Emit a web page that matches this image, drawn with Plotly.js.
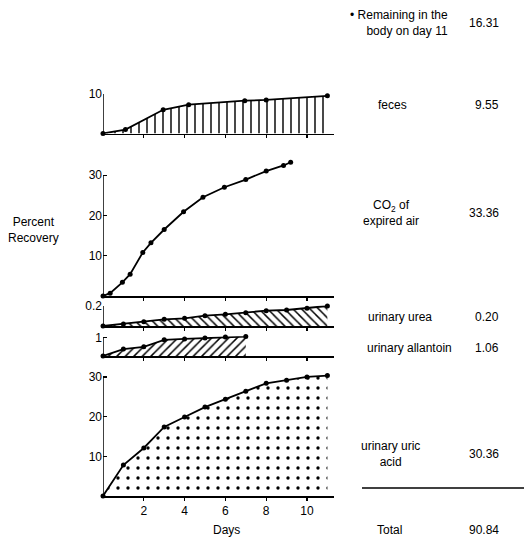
<!DOCTYPE html>
<html>
<head>
<meta charset="utf-8">
<script src="https://cdn.plot.ly/plotly-3.0.1.min.js"></script>
<style>html,body{margin:0;padding:0;background:#fff}#chart{width:524px;height:540px}</style>
</head>
<body>
<div id="chart"></div>
<script>
// ---- data ----
const fecesDays = [0, 1.1, 2.95, 4.2, 6.95, 8, 11];
const fecesVals = [0, 1.0, 6.0, 7.3, 8.3, 8.5, 9.55];

const co2Days = [0, 0.35, 0.95, 1.33, 1.95, 2.35, 3, 3.95, 4.9, 5.95, 7, 8, 8.85, 9.2];
const co2Vals = [0, 0.7, 3.4, 5.4, 10.8, 13.2, 16.5, 20.9, 24.5, 27.0, 28.9, 31.0, 32.4, 33.2];

const ureaDays = [0, 1, 2, 3, 4, 5, 6, 7, 8, 9, 10, 11];
const ureaVals = [0, 0.02, 0.043, 0.067, 0.077, 0.103, 0.117, 0.133, 0.153, 0.16, 0.177, 0.20];

const allantoinDays = [0, 1, 2, 3, 4, 5, 6, 7];
const allantoinVals = [0, 0.38, 0.5, 0.88, 0.93, 0.98, 1.03, 1.06];

const uricDays = [0, 1, 2, 3, 4, 5, 6, 7, 8, 9, 10, 11];
const uricVals = [0, 7.8, 12.1, 17.4, 19.9, 22.4, 24.4, 26.4, 28.4, 29.2, 30.0, 30.36];

const xTicks = [2, 4, 6, 8, 10];

const labelNames = ["\u2022 Remaining in the<br>body on day 11", "feces", "CO<sub>2</sub> of<br>expired air",
                    "urinary urea", "urinary allantoin", "urinary uric<br>acid", "Total"];
const labelValues = ["16.31", "9.55", "33.36", "0.20", "1.06", "30.36", "90.84"];

// ---- layout helpers ----
const W = 524, H = 540;
const px = x => x / W;
const py = y => 1 - y / H;
const FONT = "Liberation Sans, Arial, sans-serif";

const panels = [
  {x: fecesDays, y: fecesVals, range: [0, 10], ticks: [10], top: 94, bot: 133.5, pat: '|', psize: 8, sol: 0.18},
  {x: co2Days, y: co2Vals, range: [0, 34], ticks: [10, 20, 30], top: 159, bot: 296, pat: null},
  {x: ureaDays, y: ureaVals, range: [0, 0.205], ticks: [0.2], top: 305.5, bot: 326, pat: '\\', psize: 6, sol: 0.25},
  {x: allantoinDays, y: allantoinVals, range: [0, 1.08], ticks: [1], top: 336.2, bot: 356, pat: '/', psize: 6, sol: 0.25},
  {x: uricDays, y: uricVals, range: [0, 31], ticks: [10, 20, 30], top: 373, bot: 496, pat: '.', psize: 10, sol: 0.09}
];

const xDomain = [px(103), px(333.5)];
const traces = [];
const layout = {
  width: W, height: H,
  margin: {l: 0, r: 0, t: 0, b: 0},
  paper_bgcolor: '#fff', plot_bgcolor: 'rgba(0,0,0,0)',
  font: {family: FONT, color: '#000', size: 12},
  showlegend: false,
  shapes: [],
  annotations: []
};

panels.forEach((p, i) => {
  const n = i + 1;
  const xa = n === 1 ? 'x' : 'x' + n;
  const ya = n === 1 ? 'y' : 'y' + n;
  const t = {
    x: p.x, y: p.y, xaxis: xa, yaxis: ya, type: 'scatter', mode: 'lines+markers',
    line: {color: '#000', width: 1.8},
    marker: {color: '#000', size: 5},
    cliponaxis: false,
    hoverinfo: 'skip'
  };
  if (p.pat) {
    t.fill = 'tozeroy';
    t.fillcolor = 'rgba(255,255,255,0)';
    t.fillpattern = {shape: p.pat, size: p.psize, solidity: p.sol, fgcolor: '#000', bgcolor: 'rgba(255,255,255,0)'};
  }
  traces.push(t);
  const xk = n === 1 ? 'xaxis' : 'xaxis' + n;
  const yk = n === 1 ? 'yaxis' : 'yaxis' + n;
  const xa_obj = {
    domain: xDomain, anchor: ya, range: [0, 11.3],
    showgrid: false, zeroline: false, showline: true, linecolor: '#000', linewidth: 1.5,
    ticks: 'outside', ticklen: 3, tickwidth: 1.2, tickcolor: '#000',
    tickvals: xTicks, fixedrange: true
  };
  if (n === 5) {
    xa_obj.tickfont = {size: 12, family: FONT};
  } else {
    xa_obj.showticklabels = false;
  }
  layout[xk] = xa_obj;
  layout[yk] = {
    domain: [py(p.bot), py(p.top)], anchor: xa, range: p.range,
    showgrid: false, zeroline: false, showline: false,
    ticks: 'inside', ticklen: 4, tickwidth: 1.2, tickcolor: '#000',
    tickvals: p.ticks, ticktext: p.ticks.map(v => String(v)),
    tickfont: {size: 12, family: FONT}, fixedrange: true
  };
  layout.shapes.push({type: 'line', xref: xa, yref: ya, x0: 0, x1: 0, y0: 0,
                      y1: p.ticks[p.ticks.length - 1], line: {color: '#000', width: 1.5}});
});

layout.shapes.push({type: 'line', xref: 'paper', yref: 'paper', x0: px(362), x1: px(524), y0: py(488), y1: py(488),
                    line: {color: '#000', width: 1.5}});

function ann(text, x, y, xanchor, align, size) {
  layout.annotations.push({text: text, x: px(x), y: py(y), xref: 'paper', yref: 'paper',
    xanchor: xanchor, yanchor: 'middle', align: align || 'center', showarrow: false,
    font: {size: size || 12, family: FONT, color: '#000'}});
}

const labelPos = [
  [450, 23, 'right', 'right'],
  [392, 105, 'center', 'center'],
  [391, 213, 'center', 'center'],
  [366, 317, 'left', 'left'],
  [365, 348, 'left', 'left'],
  [390, 454, 'center', 'center'],
  [389, 530, 'center', 'center']
];
const valueY = [23, 105, 213, 317, 348, 454, 530];
labelNames.forEach((s, i) => {
  const lp = labelPos[i];
  ann(s, lp[0], lp[1], lp[2], lp[3]);
  ann(labelValues[i], 501, valueY[i], 'right', 'right');
});

ann("Percent<br>Recovery", 33, 230, 'center', 'center');
ann("Days", 226, 530, 'center', 'center');

Plotly.newPlot('chart', traces, layout, {displayModeBar: false, staticPlot: true});
</script>
</body>
</html>
